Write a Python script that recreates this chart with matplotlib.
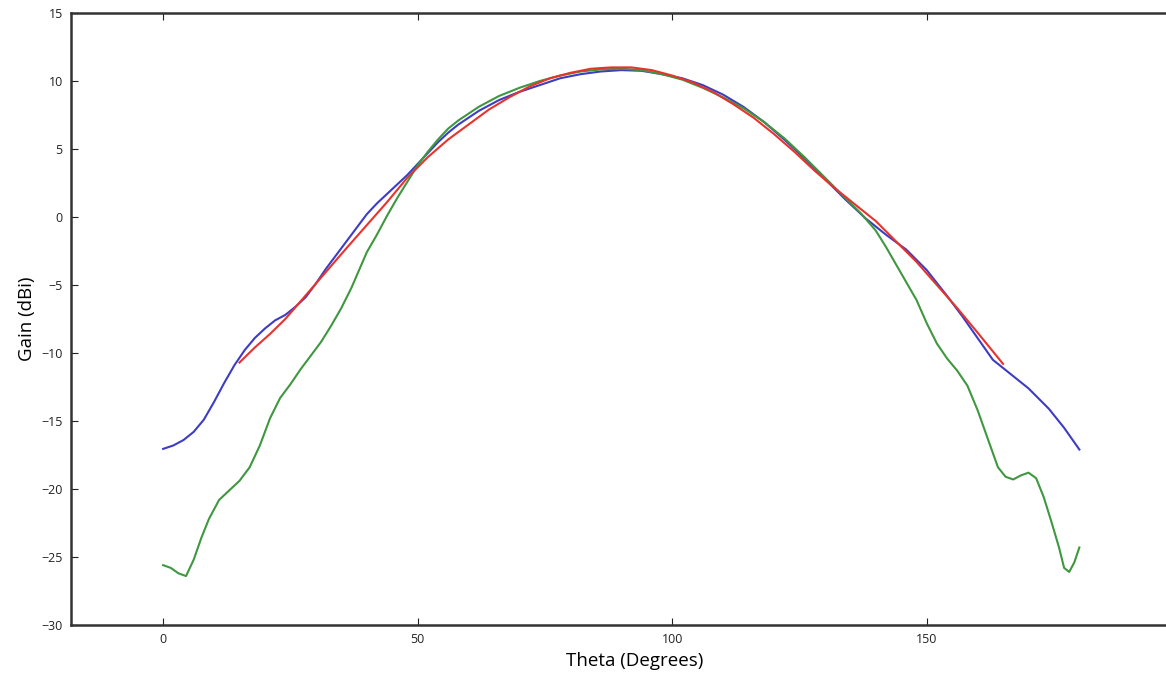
import numpy as np
import matplotlib
matplotlib.use("Agg")
import matplotlib.pyplot as plt

plt.rcParams['font.family'] = ['Open Sans', 'DejaVu Sans']

# blue curve
theta_blue = [0, 2, 4, 6, 8, 10, 12, 14, 16, 18, 20, 22, 24, 26, 28, 30, 32, 34, 36, 38,
              40, 42, 44, 46, 48, 50, 52, 54, 56, 58, 60, 62, 64, 66, 68, 70, 74, 78, 82, 86,
              90, 94, 98, 102, 106, 110, 114, 118, 122, 126, 130, 134, 138, 142, 146, 150,
              154, 157, 160, 163, 166, 170, 174, 177, 180]
gain_blue = [-17.05, -16.8, -16.4, -15.8, -14.9, -13.6, -12.2, -10.9, -9.8, -8.9, -8.2, -7.6,
             -7.2, -6.6, -5.9, -4.9, -3.8, -2.8, -1.8, -0.8, 0.2, 1.0, 1.7, 2.4, 3.1, 3.9,
             4.7, 5.5, 6.2, 6.8, 7.3, 7.8, 8.2, 8.6, 8.9, 9.2, 9.7, 10.2, 10.5, 10.7, 10.8,
             10.75, 10.5, 10.2, 9.7, 9.0, 8.1, 7.0, 5.7, 4.3, 2.8, 1.3, -0.1, -1.3, -2.4,
             -3.9, -5.8, -7.3, -8.9, -10.5, -11.4, -12.6, -14.1, -15.5, -17.1]

# green curve
theta_green = [0, 1.5, 3, 4.5, 6, 7.5, 9, 11, 13, 15, 17, 19, 21, 23, 25, 27, 29, 31, 33, 35,
               37, 40, 42, 44, 46, 48, 50, 52, 54, 56, 58, 60, 62, 64, 66, 68, 70, 74, 78, 82,
               86, 90, 94, 98, 102, 106, 110, 114, 118, 122, 126, 130, 134, 137, 140, 142,
               144, 146, 148, 150, 152, 154, 156, 158, 160, 162, 164, 165.5, 167, 168.5, 170,
               171.5, 173, 174.5, 176, 177, 178, 179, 180]
gain_green = [-25.6, -25.8, -26.2, -26.4, -25.2, -23.6, -22.2, -20.8, -20.1, -19.4, -18.4,
              -16.8, -14.8, -13.3, -12.3, -11.2, -10.2, -9.2, -8.0, -6.7, -5.2, -2.6, -1.3,
              0.1, 1.4, 2.6, 3.8, 4.8, 5.7, 6.5, 7.1, 7.6, 8.1, 8.5, 8.9, 9.2, 9.5, 10.0,
              10.4, 10.7, 10.85, 10.9, 10.8, 10.5, 10.1, 9.5, 8.8, 8.0, 7.0, 5.8, 4.4, 2.9,
              1.4, 0.3, -1.0, -2.2, -3.5, -4.8, -6.1, -7.8, -9.3, -10.4, -11.3, -12.4, -14.2,
              -16.3, -18.4, -19.1, -19.3, -19.0, -18.8, -19.2, -20.6, -22.4, -24.3, -25.8,
              -26.1, -25.4, -24.3]

# red curve
theta_red = [15, 18, 21, 24, 27, 30, 33, 36, 40, 44, 48, 52, 56, 60, 64, 68, 72, 76, 80, 84,
             88, 92, 96, 100, 104, 108, 112, 116, 120, 124, 128, 132, 136, 140, 144, 148,
             152, 156, 160, 165]
gain_red = [-10.7, -9.6, -8.6, -7.5, -6.2, -4.9, -3.6, -2.3, -0.6, 1.1, 2.9, 4.4, 5.7, 6.8,
            7.9, 8.8, 9.6, 10.2, 10.6, 10.9, 11.0, 11.0, 10.8, 10.4, 9.9, 9.2, 8.3, 7.3, 6.1,
            4.8, 3.4, 2.1, 0.9, -0.3, -1.8, -3.3, -5.0, -6.7, -8.5, -10.8]

fig = plt.figure(figsize=(11.66, 6.8), dpi=100)
# right edge of the axes sits past the figure edge, as in the cropped original
ax = fig.add_axes([71 / 1166, 55 / 680, (1199 - 71) / 1166, (625 - 13) / 680])

ax.plot(theta_blue, gain_blue, color='#3d3dc4', lw=1.5)
ax.plot(theta_green, gain_green, color='#3f973f', lw=1.5)
ax.plot(theta_red, gain_red, color='#e8332c', lw=1.5)

ax.set_xlim(-18.1, 203.5)
ax.set_ylim(-30, 15)
ax.set_xticks([0, 50, 100, 150])
ax.set_yticks(np.arange(-30, 16, 5))
ax.tick_params(direction='in', top=True, right=True, length=5, width=0.8,
               labelsize=9, colors='#222222', pad=6)
for sp in ax.spines.values():
    sp.set_linewidth(1.8)
    sp.set_color('#333333')

ax.set_xlabel('Theta (Degrees)', fontsize=13.5, labelpad=4)
ax.set_ylabel('Gain (dBi)', fontsize=13.5, labelpad=4)

fig.savefig('out.png', dpi=100)
